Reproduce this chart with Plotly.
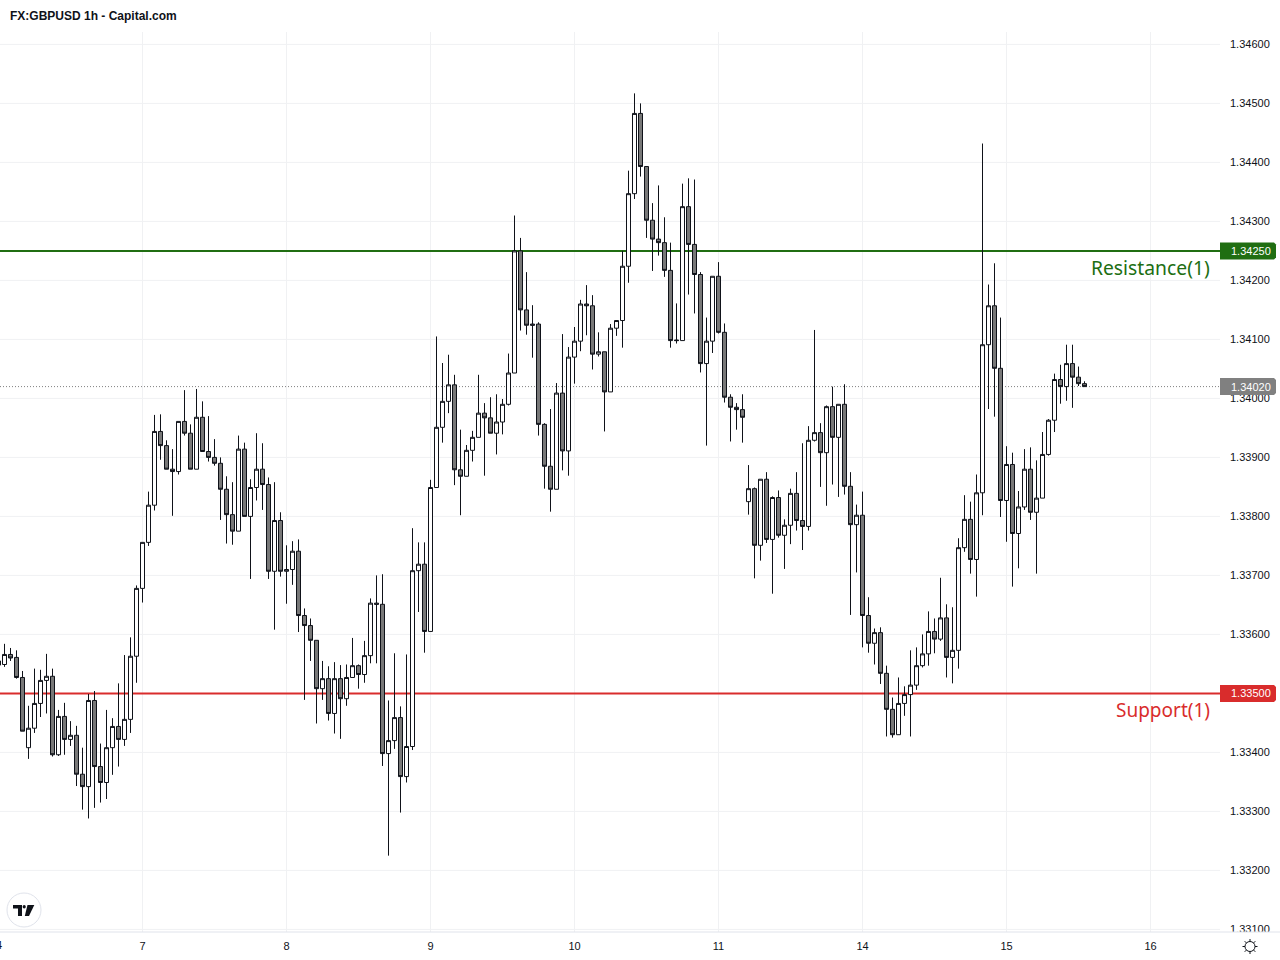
import math
import plotly.graph_objects as go

# Hourly GBPUSD prices in points (1/100000), one line per trading day.
OPEN_PTS = [
    133555,133549,133566,133561,133527,133408,133441,133483,133522,133529,133396,133461,
    133422,133429,133363,133342,133488,133376,133349,133408,133444,133422,133456,133563,
    133678,133756,133819,133944,133920,133880,133876,133961,133941,133880,133968,133910,
    133900,133890,133846,133803,133775,133914,133800,133849,133880,133854,133707,133793,
    133707,133710,133741,133632,133615,133590,133508,133525,133466,133525,133491,133527,
    133547,133532,133564,133653,133651,133398,133420,133459,133359,133410,133708,133719,
    133605,133849,133951,133995,134023,133879,133868,133912,133934,133975,133967,133941,
    133960,133990,134043,134250,134150,134126,134126,133956,133885,133846,134009,133911,
    134070,134097,134160,134157,134075,134079,134011,134119,134132,134224,134347,134483,
    134393,134302,134270,134264,134217,134099,134098,134325,134261,134210,134059,134097,
    134207,134112,134002,133985,133981,133825,133847,133751,133863,133761,133832,133768,
    133785,133839,133793,133783,133929,133942,133908,133986,133934,133990,133851,133786,
    133802,133632,133585,133603,133534,133473,133430,133483,133498,133514,133547,133567,
    133605,133592,133628,133561,133573,133747,133795,133727,133840,134091,134157,134051,
    133827,133888,133771,133816,133880,133807,133831,133905,133963,134032,134020,134059,
    134036,134025,
]
HIGH_PTS = [
    133556,133584,133577,133573,133538,133479,133542,133540,133567,133542,133472,133484,
    133453,133445,133408,133499,133504,133415,133472,133458,133517,133565,133595,133683,
    133756,133842,133972,133973,133929,133914,133961,134014,133956,134016,133995,133970,
    133931,133900,133868,133858,133937,133925,133863,133941,133924,133866,133858,133807,
    133751,133758,133761,133644,133627,133590,133555,133546,133553,133548,133549,133594,
    133549,133589,133661,133700,133702,133488,133568,133478,133566,133780,133756,133756,
    133862,134105,134060,134074,134040,133947,133921,133945,134040,133992,134002,134007,
    133999,134076,134310,134272,134214,134158,134129,133958,133982,134026,134109,134087,
    134121,134167,134192,134175,134112,134079,134126,134132,134250,134386,134517,134500,
    134393,134331,134361,134307,134264,134161,134364,134373,134371,134214,134137,134207,
    134231,134127,134007,133992,134007,133887,133849,133863,133875,133834,133844,133795,
    133847,133875,133924,133953,134116,133958,133988,134020,133990,134024,133875,133820,
    133842,133663,133610,133612,133547,133493,133527,133512,133573,133578,133600,133639,
    133627,133696,133651,133646,133763,133836,133825,133871,134432,134193,134229,134137,
    133919,133908,133843,133914,133917,133895,133943,133965,134042,134057,134091,134091,
    134054,134029,
]
LOW_PTS = [
    133546,133545,133555,133525,133436,133389,133433,133460,133466,133393,133394,133396,
    133411,133343,133303,133288,133306,133315,133321,133362,133376,133411,133433,133518,
    133654,133750,133810,133896,133880,133801,133871,133937,133880,133880,133910,133893,
    133886,133794,133754,133752,133775,133800,133694,133827,133811,133694,133608,133698,
    133652,133684,133604,133489,133555,133449,133489,133454,133432,133423,133479,133527,
    133508,133518,133551,133551,133377,133225,133406,133298,133349,133404,133638,133569,
    133605,133849,133925,133975,133853,133802,133868,133893,133934,133869,133941,133905,
    133939,133988,134043,134115,134108,134069,133937,133847,133808,133846,133878,133869,
    134025,134080,134107,134049,134071,133944,134011,134106,134086,134196,134338,134376,
    134272,134216,134242,134206,134086,134093,134098,134176,134144,134044,133920,134077,
    134110,133993,133927,133947,133925,133803,133695,133725,133755,133669,133764,133711,
    133753,133776,133743,133776,133927,133850,133818,133854,133833,133837,133633,133705,
    133578,133569,133549,133516,133427,133425,133430,133462,133427,133506,133544,133547,
    133568,133589,133527,133517,133542,133740,133703,133664,133802,133982,133969,133799,
    133757,133681,133712,133811,133794,133703,133831,133903,133943,133991,133996,133984,
    134021,134020,
]
CLOSE_PTS = [
    133548,133566,133560,133527,133436,133441,133483,133522,133529,133396,133461,133422,
    133429,133363,133342,133488,133376,133349,133408,133444,133422,133456,133563,133678,
    133756,133819,133944,133920,133880,133876,133961,133941,133880,133968,133910,133900,
    133890,133846,133803,133775,133914,133800,133849,133880,133854,133707,133793,133707,
    133710,133741,133632,133615,133590,133508,133525,133466,133525,133491,133527,133547,
    133532,133564,133653,133651,133398,133420,133459,133359,133410,133708,133719,133605,
    133849,133951,133995,134023,133879,133868,133912,133934,133975,133967,133941,133960,
    133990,134043,134250,134150,134124,134124,133956,133885,133846,134009,133911,134070,
    134097,134160,134157,134075,134079,134011,134119,134132,134224,134347,134483,134393,
    134302,134270,134264,134217,134098,134098,134325,134261,134210,134059,134097,134207,
    134112,134002,133985,133981,133968,133847,133751,133863,133761,133832,133768,133785,
    133839,133793,133783,133929,133942,133908,133986,133934,133990,133851,133786,133802,
    133632,133585,133603,133534,133473,133430,133483,133498,133514,133547,133567,133605,
    133592,133628,133561,133573,133747,133795,133727,133840,134091,134157,134051,133827,
    133888,133771,133816,133880,133807,133831,133905,133963,134032,134020,134059,134036,
    134025,134020,
]

DAY_BARS = [0, 24, 48, 72, 96, 120, 144, 168]
DAY_LABELS = ["7", "8", "9", "10", "11", "14", "15", "16"]
PRICE_TICKS = [1.346, 1.345, 1.344, 1.343, 1.342, 1.341, 1.340, 1.339,
               1.338, 1.337, 1.336, 1.335, 1.334, 1.333, 1.332, 1.331]
RESISTANCE = 1.3425
SUPPORT = 1.335
LAST_PRICE = 1.3402

INK = "#0f1219"
GRID = "#f0f1f3"
BORDER = "#e0e3eb"
GREEN = "#206e12"
RED = "#d92c2c"
GREY_FILL = "#787878"
LAST_GREY = "#808080"

WIDTH, HEIGHT = 1280, 960
PLOT_LEFT, PLOT_RIGHT, PLOT_TOP, PLOT_BOTTOM = 0, 1220, 32, 932
BAR_PX = 6
FIRST_DAY_PX = 142.5
PX_PER_PRICE = 59000
Y_ZERO_PX = 398.4  # pixel row of 1.34000

bars = list(range(-24, len(OPEN_PTS) - 24))
to_price = lambda pts: [p / 100000 for p in pts]

x_range = [(PLOT_LEFT - FIRST_DAY_PX) / BAR_PX, (PLOT_RIGHT - FIRST_DAY_PX) / BAR_PX]
y_range = [1.34 - (PLOT_BOTTOM - Y_ZERO_PX) / PX_PER_PRICE,
           1.34 + (Y_ZERO_PX - PLOT_TOP) / PX_PER_PRICE]


def nx(px):
    return (px - PLOT_LEFT) / (PLOT_RIGHT - PLOT_LEFT)


def ny(py):
    return (PLOT_BOTTOM - py) / (PLOT_BOTTOM - PLOT_TOP)


def price_row(price):
    return Y_ZERO_PX + (1.34 - price) * PX_PER_PRICE


def path(points, close=True):
    head = "M" + " L".join(f"{nx(x):.5f},{ny(y):.5f}" for x, y in points)
    return head + (" Z" if close else "")


fig = go.Figure(
    go.Candlestick(
        x=bars,
        open=to_price(OPEN_PTS),
        high=to_price(HIGH_PTS),
        low=to_price(LOW_PTS),
        close=to_price(CLOSE_PTS),
        whiskerwidth=0,
        increasing=dict(line=dict(color=INK, width=1), fillcolor="#ffffff"),
        decreasing=dict(line=dict(color=INK, width=1), fillcolor=GREY_FILL),
        hoverinfo="skip",
    )
)

# Grid drawn underneath everything so the level lines stay unbroken.
for tick in PRICE_TICKS:
    fig.add_shape(type="line", xref="paper", yref="y", x0=0, x1=1, y0=tick, y1=tick,
                  line=dict(color=GRID, width=1), layer="below")
for day in DAY_BARS:
    fig.add_shape(type="line", xref="x", yref="paper", x0=day, x1=day, y0=0, y1=1,
                  line=dict(color=GRID, width=1), layer="below")

# Level lines run over the grid and under the candles.
for level, colour in [(RESISTANCE, GREEN), (SUPPORT, RED)]:
    fig.add_shape(type="line", xref="paper", yref="y", x0=0, x1=1, y0=level, y1=level,
                  line=dict(color=colour, width=2), layer="below")
fig.add_shape(type="line", xref="paper", yref="y", x0=0, x1=1, y0=LAST_PRICE, y1=LAST_PRICE,
              line=dict(color=LAST_GREY, width=1, dash="1px,2px"), layer="below")

# Bottom border of the chart pane and a mask that trims the lowest price label.
fig.add_shape(type="rect", xref="paper", yref="paper", x0=nx(1221), x1=nx(1280), y0=ny(960), y1=ny(932),
              fillcolor="#ffffff", line=dict(width=0), layer="above")
fig.add_shape(type="line", xref="paper", yref="paper", x0=nx(0), x1=nx(1280), y0=ny(932), y1=ny(932),
              line=dict(color=BORDER, width=1), layer="above")

# Price flags on the right-hand scale.
for level, fill, text in [(RESISTANCE, GREEN, "1.34250"), (SUPPORT, RED, "1.33500"), (LAST_PRICE, LAST_GREY, "1.34020")]:
    row = price_row(level)
    top, bottom, left, right, r = row - 8.5, row + 8.5, 1220, 1276, 2
    flag = (f"M{nx(left):.5f},{ny(top):.5f} L{nx(right - r):.5f},{ny(top):.5f} "
            f"L{nx(right):.5f},{ny(top + r):.5f} L{nx(right):.5f},{ny(bottom - r):.5f} "
            f"L{nx(right - r):.5f},{ny(bottom):.5f} L{nx(left):.5f},{ny(bottom):.5f} Z")
    fig.add_shape(type="path", xref="paper", yref="paper", path=flag, fillcolor=fill,
                  line=dict(width=0), layer="above")
    fig.add_annotation(xref="paper", yref="paper", x=nx(1229), y=ny(row), xanchor="left", yanchor="middle",
                       text=text, showarrow=False, font=dict(family="Liberation Sans", size=11, color="#ffffff"))

# TradingView badge.
fig.add_shape(type="circle", xref="paper", yref="paper", x0=nx(7), x1=nx(41), y0=ny(927), y1=ny(893),
              fillcolor="#ffffff", line=dict(color=BORDER, width=1), layer="above")
logo_t = [(13, 905), (22, 905), (22, 916), (18, 916), (18, 908.5), (13, 908.5)]
logo_slash = [(27.5, 905), (34.3, 905), (29, 916), (24.8, 916)]
for shape_points in (logo_t, logo_slash):
    fig.add_shape(type="path", xref="paper", yref="paper", path=path(shape_points),
                  fillcolor=INK, line=dict(width=0), layer="above")
fig.add_shape(type="circle", xref="paper", yref="paper", x0=nx(22.6), x1=nx(25.8), y0=ny(908.5), y1=ny(905),
              fillcolor=INK, line=dict(width=0), layer="above")

# Settings gear under the price scale.
gear_x, gear_y = 1250, 946.5
fig.add_shape(type="circle", xref="paper", yref="paper", x0=nx(gear_x - 5), x1=nx(gear_x + 5),
              y0=ny(gear_y + 5), y1=ny(gear_y - 5), fillcolor="#ffffff", line=dict(color=INK, width=1), layer="above")
for k in range(8):
    a = k * math.pi / 4
    fig.add_shape(type="line", xref="paper", yref="paper",
                  x0=nx(gear_x + 5 * math.cos(a)), x1=nx(gear_x + 7.5 * math.cos(a)),
                  y0=ny(gear_y + 5 * math.sin(a)), y1=ny(gear_y + 7.5 * math.sin(a)),
                  line=dict(color=INK, width=1), layer="above")

fig.add_annotation(xref="paper", yref="paper", x=nx(8), y=ny(15.5), xanchor="left", yanchor="middle",
                   text="<b>FX:GBPUSD 1h - Capital.com</b>", showarrow=False,
                   font=dict(family="Liberation Sans", size=12, color=INK))
fig.add_annotation(xref="paper", yref="paper", x=nx(1212), y=ny(267), xanchor="right", yanchor="middle",
                   text="Resistance(1)", showarrow=False, font=dict(family="Noto Sans", size=19.3, color=GREEN))
fig.add_annotation(xref="paper", yref="paper", x=nx(1212), y=ny(710), xanchor="right", yanchor="middle",
                   text="Support(1)", showarrow=False, font=dict(family="Noto Sans", size=19, color=RED))
# The previous session's day label only just reaches the left edge.
fig.add_annotation(xref="paper", yref="paper", x=nx(-1), y=ny(945.5), xanchor="center", yanchor="middle",
                   text="4", showarrow=False, font=dict(family="Liberation Sans", size=11, color=INK))

fig.update_layout(
    width=WIDTH, height=HEIGHT, autosize=False,
    margin=dict(l=PLOT_LEFT, r=WIDTH - PLOT_RIGHT, t=PLOT_TOP, b=HEIGHT - PLOT_BOTTOM, pad=0),
    paper_bgcolor="#ffffff", plot_bgcolor="rgba(0,0,0,0)",
    showlegend=False, boxgap=1 / 3, boxgroupgap=0, hovermode=False,
    font=dict(family="Liberation Sans", size=11, color=INK),
    xaxis=dict(range=x_range, tickmode="array", tickvals=DAY_BARS, ticktext=DAY_LABELS,
               showgrid=False, zeroline=False, showline=False,
               rangeslider=dict(visible=False), ticks="", ticklabelstandoff=6),
    yaxis=dict(range=y_range, side="right", tickmode="array", tickvals=PRICE_TICKS,
               ticktext=[f"{t:.5f}" for t in PRICE_TICKS],
               showgrid=False, zeroline=False, showline=False,
               ticks="", ticklabelstandoff=9),
)

fig.write_html("out.html")
